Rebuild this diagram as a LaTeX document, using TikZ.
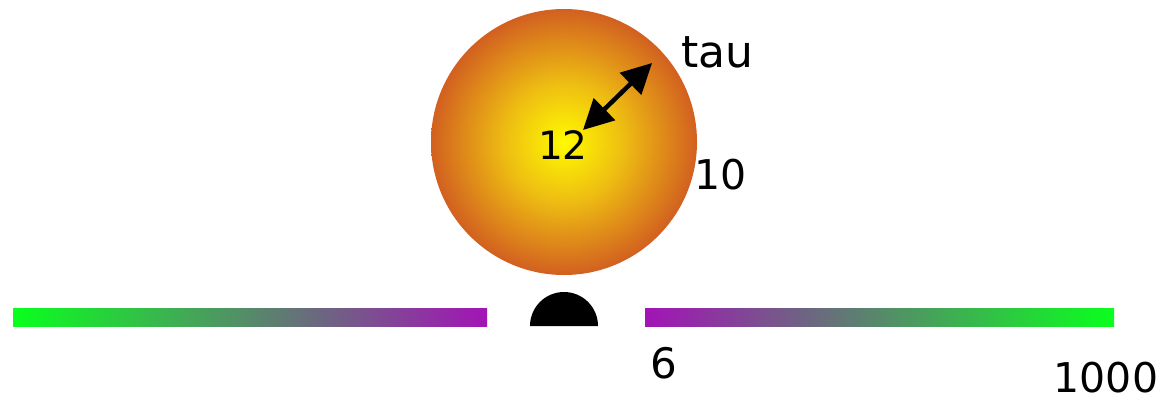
\documentclass[tikz,border=0pt]{standalone}
\usepackage{fontspec}
\setmainfont{DejaVu Sans}
\usetikzlibrary{arrows.meta}
\definecolor{barGreen}{RGB}{10,255,30}
\definecolor{barPurple}{RGB}{162,20,182}
\definecolor{ballCore}{RGB}{255,250,0}
\definecolor{ballMid}{RGB}{238,190,18}
\definecolor{ballEdge}{RGB}{210,96,32}
\pgfdeclareradialshading{ballshade}{\pgfpoint{0bp}{0bp}}{color(0bp)=(ballCore); color(11bp)=(ballMid); color(25bp)=(ballEdge); color(50bp)=(ballEdge)}
\tikzset{
  lbl/.style={inner sep=0pt, text=black},
  barbox/.style={rectangle, inner sep=0pt, minimum width=#1, minimum height=18pt, draw=none},
  radarrow/.style={line width=4.5pt, {Triangle[length=30pt,width=30pt]}-{Triangle[length=30pt,width=30pt]}}
}
\begin{document}
\begin{tikzpicture}[x=1pt,y=-1pt]
\useasboundingbox (0,0) rectangle (1165,405);
% ball
\node[circle, minimum size=266pt, inner sep=0pt, shading=ballshade] (ball) at (564,142) {};
% bars
\node[barbox=474pt, left color=barGreen, right color=barPurple, anchor=north west] (lbar) at (13,308) {};
\node[barbox=469pt, left color=barPurple, right color=barGreen, anchor=north west] (rbar) at (645,308) {};
% dome
\coordinate (domec) at (564,326);
\fill[black] (530,326) arc[start angle=180, end angle=360, radius=34] -- cycle;
% arrow
\coordinate (inner) at (583,130);
\coordinate (outer) at (652,63);
\draw[radarrow] (inner) -- (outer);
% labels
\node[lbl, anchor=base, font=\fontsize{39}{41}\selectfont] (l12) at (563,159) {12};
\node[lbl, anchor=base west, font=\fontsize{41}{43}\selectfont] (l10) at (694,189) {10};
\node[lbl, anchor=base west, font=\fontsize{44}{46}\selectfont] (ltau) at (681,67) {tau};
\node[lbl, anchor=base, font=\fontsize{42}{44}\selectfont] (l6) at (664,378) {6};
\node[lbl, anchor=base, font=\fontsize{41}{43}\selectfont] (l1000) at (1106,392) {1000};
\end{tikzpicture}
\end{document}
